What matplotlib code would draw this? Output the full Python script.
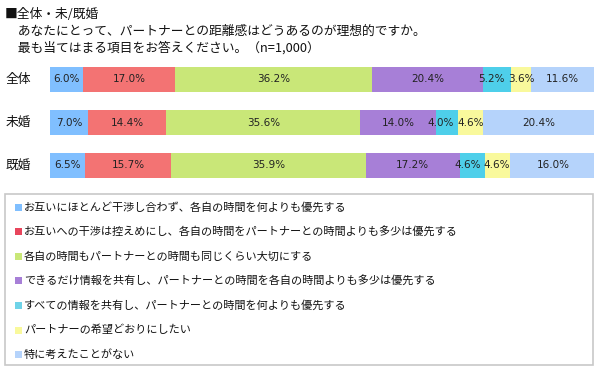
import matplotlib
matplotlib.use("Agg")
import matplotlib.pyplot as plt
from matplotlib.patches import Rectangle

plt.rcParams["font.family"] = ["Noto Sans CJK JP", "DejaVu Sans"]

# ---------------------------------------------------------------------------
# Data
# ---------------------------------------------------------------------------
groups = ["全体", "未婚", "既婚"]
answers = [
    "お互いにほとんど干渉し合わず、各自の時間を何よりも優先する",
    "お互いへの干渉は控えめにし、各自の時間をパートナーとの時間よりも多少は優先する",
    "各自の時間もパートナーとの時間も同じくらい大切にする",
    "できるだけ情報を共有し、パートナーとの時間を各自の時間よりも多少は優先する",
    "すべての情報を共有し、パートナーとの時間を何よりも優先する",
    "パートナーの希望どおりにしたい",
    "特に考えたことがない",
]
values = {
    "全体": [6.0, 17.0, 36.2, 20.4, 5.2, 3.6, 11.6],
    "未婚": [7.0, 14.4, 35.6, 14.0, 4.0, 4.6, 20.4],
    "既婚": [6.5, 15.7, 35.9, 17.2, 4.6, 4.6, 16.0],
}
bar_colors = ["#80bfff", "#f37373", "#c9e778", "#a77fd7", "#4ecfea", "#f9f99c", "#b5d3fb"]
legend_colors = ["#80bfff", "#e8455c", "#c9e778", "#a77fd7", "#6fd3e8", "#f9f99c", "#b5d3fb"]
title_lines = [
    "■全体・未/既婚",
    "　あなたにとって、パートナーとの距離感はどうあるのが理想的ですか。",
    "　最も当てはまる項目をお答えください。（n=1,000）",
]

W, H = 600, 378
fig = plt.figure(figsize=(W / 100, H / 100), dpi=100)


def fx(px):
    return px / W


def fy(py):
    return 1 - py / H


# title
for i, line in enumerate(title_lines):
    fig.text(fx(5), fy(15 + i * 16.5), line, fontsize=9.2, va="center", ha="left",
             color="#111111")

# ---------------------------------------------------------------------------
# Stacked bars
# ---------------------------------------------------------------------------
ax = fig.add_axes([fx(50), fy(187), fx(594) - fx(50), (187 - 58) / H])
ax.set_xlim(0, 100)
ax.set_ylim(2.5, -0.5)
ax.axis("off")

renderer = fig.canvas.get_renderer()
px_per_unit = (fx(594) - fx(50)) * W / 100

for r, g in enumerate(groups):
    left = 0.0
    labels = []
    for k, v in enumerate(values[g]):
        ax.barh(r, v, left=left, height=0.58, color=bar_colors[k], edgecolor="none")
        t = ax.text(left + v / 2, r, f"{v:.1f}%", ha="center", va="center",
                    fontsize=7.5, color="#222222", family="DejaVu Sans")
        labels.append(t)
        left += v
    ax.text(-3.5, r, g, ha="right", va="center", fontsize=9.2, color="#111111")

    # nudge labels left when they collide with the next one
    for i in range(len(labels) - 2, -1, -1):
        a = labels[i].get_window_extent(renderer)
        b = labels[i + 1].get_window_extent(renderer)
        overlap = a.x1 + 3 - b.x0
        if overlap > 0:
            x, y = labels[i].get_position()
            labels[i].set_position((x - overlap / px_per_unit, y))

# ---------------------------------------------------------------------------
# Legend box
# ---------------------------------------------------------------------------
fig.patches.append(Rectangle((fx(5), fy(365)), fx(593) - fx(5), (365 - 194) / H,
                             transform=fig.transFigure, facecolor="white",
                             edgecolor="#c8c8c8", linewidth=1.2))
for i, (txt, c) in enumerate(zip(answers, legend_colors)):
    y = 207 + i * 24.6
    fig.patches.append(Rectangle((fx(15), fy(y + 3.5)), 7 / W, 7 / H,
                                 transform=fig.transFigure, facecolor=c,
                                 edgecolor="none"))
    fig.text(fx(24), fy(y), txt, fontsize=8, va="center", ha="left",
             color="#111111")

fig.savefig("out.png", dpi=100)
